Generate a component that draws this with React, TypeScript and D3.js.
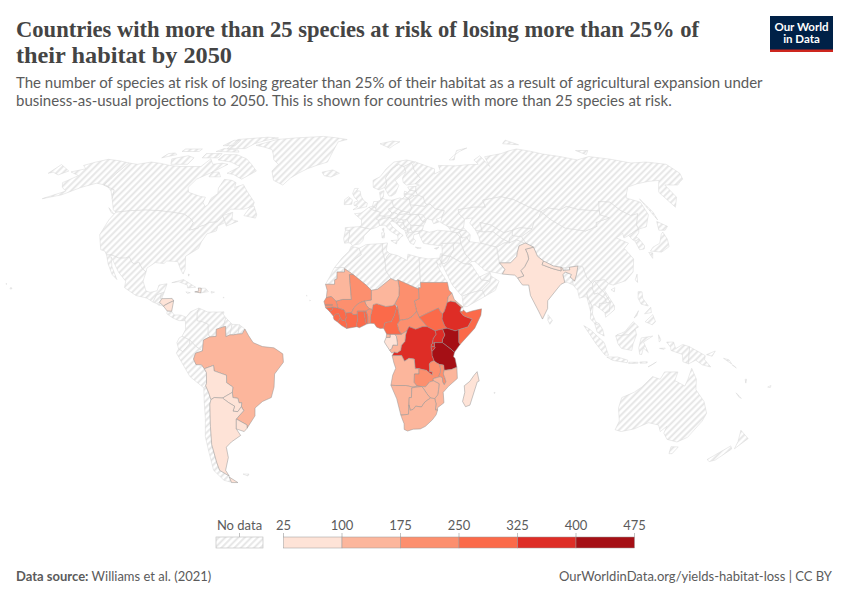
import * as d3 from "d3"

type Ring = [number, number][]
type Shapes = Record<string, Ring[]>

const title = ["Countries with more than 25 species at risk of losing more than 25% of", "their habitat by 2050"]
const subtitle = [
  "The number of species at risk of losing greater than 25% of their habitat as a result of agricultural expansion under",
  "business-as-usual projections to 2050. This is shown for countries with more than 25 species at risk.",
]

const legendBreaks = [25, 100, 175, 250, 325, 400, 475]
const legendColors = ["#fee3d7", "#fcb69c", "#fc8f6e", "#fb6a4a", "#de2d26", "#a50f15"]

const speciesCountries = [
  "Tanzania", "Kenya", "Ethiopia", "Uganda", "DR Congo", "Rwanda", "Burundi", "Nigeria", "Cameroon", "South Sudan",
  "Somalia", "Ghana", "Ivory Coast", "Guinea", "Liberia", "Sierra Leone", "Guinea-Bissau", "Togo", "Zambia", "Malawi",
  "Mali", "Chad", "Sudan", "Central African Republic", "Senegal", "Gambia", "Burkina Faso", "Benin", "Equatorial Guinea",
  "Mauritania", "Niger", "Eritrea", "Congo", "Angola", "Mozambique", "Zimbabwe", "Botswana", "Namibia", "South Africa",
  "Brazil", "Gabon", "Madagascar", "India", "Pakistan", "Nepal", "Argentina", "Bolivia", "Paraguay", "Uruguay",
  "Honduras", "Nicaragua", "Haiti",
]
const speciesValues = [
  445, 430, 370, 350, 360, 330, 330, 300, 290, 280,
  270, 280, 285, 270, 280, 280, 260, 260, 230, 220,
  200, 200, 190, 200, 230, 220, 200, 180, 170,
  150, 140, 130, 140, 130, 130, 130, 125, 130, 140,
  135, 60, 50, 60, 50, 55, 45, 55, 50, 45,
  60, 55, 70,
]

const africaShapes: Shapes = {
  Morocco: [[[-5.9,35.8],[-2.2,35.1],[-1.2,32.6],[-3.6,31.2],[-8.7,27.7],[-13.2,27.7],[-9.8,31.5],[-6.8,34]]],
  "Western Sahara": [[[-13.2,27.7],[-8.7,27.7],[-8.7,26],[-12,26],[-12,23.4],[-13,23],[-13,21.3],[-17,21.3],[-15,24.5],[-14,26.5]]],
  Mauritania: [[[-17,21.3],[-13,21.3],[-13,23],[-12,23.4],[-12,26],[-8.7,26],[-8.7,27.3],[-4.8,25],[-6.5,25],[-5.5,15.5],[-9.3,15.5],[-10.9,15.1],[-12.2,14.8],[-14.3,16.6],[-16.5,16.2],[-16.2,19]]],
  Algeria: [[[-2.2,35.1],[1,36.5],[8.6,36.9],[8.4,34.5],[9.5,30.2],[9.8,26.5],[11.9,23.5],[6,19.4],[3.2,19],[1.1,20.9],[-4.8,25],[-8.7,27.3],[-8.7,27.7],[-3.6,31.2],[-1.2,32.6]]],
  Tunisia: [[[8.6,36.9],[10.9,37.1],[10.2,34.3],[11.5,33.1],[10.3,31.7],[9.5,30.2],[8.4,34.5]]],
  Libya: [[[11.5,33.1],[15.2,32.3],[19.5,30.4],[20,32.8],[25,31.6],[25,20],[24,20],[24,19.5],[15,23],[14.2,22.6],[11.9,23.5],[9.8,26.5],[9.5,30.2],[10.3,31.7]]],
  Egypt: [[[25,31.6],[29,31],[32.3,31.2],[34.2,31.3],[34.9,29.5],[34.3,27.8],[32.6,29.9],[33.7,27],[35.7,23.9],[36.9,22],[25,22]]],
  Sudan: [[[25,22],[36.9,22],[37.4,19],[38.6,18],[36.9,16.5],[36.4,14.4],[35,11],[34.2,10],[33.2,10.8],[32.4,12.2],[27,10],[24,8.7],[22.9,11],[22.3,13.5],[22,15],[24,15.7],[24,19.5],[24,20],[25,20]]],
  Chad: [[[15,23],[24,19.5],[24,15.7],[22,15],[22.3,13.5],[22.9,11],[21,9],[18.9,8],[15.5,7.5],[15.1,10],[14.5,12.9],[13.5,14],[15.3,16.9],[15.5,20]]],
  "Central African Republic": [[[14.4,6],[15.5,7.5],[18.9,8],[21,9],[22.9,11],[24,8.7],[27.4,5.1],[25.3,5.1],[22.4,4.1],[19.5,5.1],[18.6,3.5],[16.2,2.2],[15,3.8]]],
  "South Sudan": [[[24,8.7],[27,10],[32.4,12.2],[33.2,10.8],[34.2,10],[33.9,8],[35,5.4],[36,4.5],[34,4.2],[30.8,3.5],[27.4,5.1]]],
  Ethiopia: [[[36.4,14.4],[37.9,14.9],[40,14.5],[42.4,12.5],[41.8,11],[43,9.5],[44,9],[47,8],[45,5],[42,4.2],[41,3.9],[39.5,3.5],[36,4.5],[35,5.4],[33.9,8],[34.2,10],[35,11]]],
  Eritrea: [[[36.4,14.4],[36.9,16.5],[38.6,18],[39.5,15.5],[43.1,12.6],[42.4,12.5],[40,14.5],[37.9,14.9]]],
  Djibouti: [[[42.4,12.5],[43.1,12.6],[43.3,11.5],[42.8,10.9],[41.8,11]]],
  Somalia: [[[42.8,10.9],[43.3,11.5],[44.5,10.4],[47,11.1],[51.2,11.9],[50.8,9.5],[48,4.5],[41.6,-1.7],[41,-0.9],[41,3.9],[42,4.2],[45,5],[47,8],[44,9],[43,9.5],[41.8,11]]],
  Kenya: [[[41,3.9],[41,-0.9],[41.6,-1.7],[39.2,-4.7],[37.7,-3.5],[33.9,-1],[33.9,0.1],[35,1.9],[34,4.2],[36,4.5],[39.5,3.5]]],
  Uganda: [[[33.9,-1],[30.5,-1],[29.6,-1.4],[29.9,0.5],[31.2,2.2],[30.8,3.5],[34,4.2],[35,1.9],[33.9,0.1]]],
  Tanzania: [[[33.9,-1],[37.7,-3.5],[39.2,-4.7],[38.8,-6.4],[39.5,-7],[40.4,-10.4],[38,-11.3],[34.9,-11.6],[34.6,-9.6],[32.9,-9.4],[31.2,-8.6],[30.4,-7.9],[29.5,-6],[29.4,-4.4],[30.8,-3],[30.5,-2.4],[30.5,-1]]],
  Rwanda: [[[30.5,-1],[30.5,-2.4],[29,-2.7],[29.2,-1.6],[29.6,-1.4]]],
  Burundi: [[[30.5,-2.4],[30.8,-3],[29.4,-4.4],[29,-2.7]]],
  "DR Congo": [[[12.2,-6],[13.1,-4.6],[14.4,-4.9],[15.9,-3.9],[16.2,-2],[17.7,-0.5],[18,2],[18.6,3.5],[19.5,5.1],[22.4,4.1],[25.3,5.1],[27.4,5.1],[30.8,3.5],[31.2,2.2],[29.9,0.5],[29.6,-1.4],[29.2,-1.6],[29,-2.7],[29.4,-4.4],[29.5,-6],[30.4,-7.9],[28.9,-8.5],[28.4,-9.2],[28.6,-12],[29.8,-12.2],[29.8,-13.4],[28.4,-12.5],[27.2,-11.6],[25.3,-11.3],[23.9,-10.9],[22.3,-11],[21.8,-7.3],[19.5,-7],[17.6,-8.1],[16.3,-5.9]]],
  Congo: [[[11.1,-3.9],[12,-5],[13.1,-4.6],[14.4,-4.9],[15.9,-3.9],[16.2,-2],[17.7,-0.5],[18,2],[18.6,3.5],[16.2,2.2],[13.2,2.2],[14,1.4],[14.4,-0.9],[14.5,-2],[12.5,-1.9],[12,-3.3]]],
  Gabon: [[[9.3,-1.5],[8.8,-0.7],[9.6,1],[11.3,1],[11.3,2.2],[13.2,2.2],[14,1.4],[14.4,-0.9],[14.5,-2],[12.5,-1.9],[12,-3.3],[11.1,-3.9]]],
  "Equatorial Guinea": [[[9.8,2.3],[11.3,2.2],[11.3,1],[9.6,1]]],
  Cameroon: [[[8.5,4.5],[9.8,2.3],[11.3,2.2],[13.2,2.2],[16.2,2.2],[15,3.8],[14.4,6],[15.5,7.5],[15.1,10],[14.5,12.9],[14.2,12.4],[13.2,9.5],[11.8,7],[10.2,6.9],[8.9,6.4]]],
  Nigeria: [[[2.7,6.4],[4.4,6.3],[5.5,4.9],[7,4.4],[8.5,4.5],[8.9,6.4],[10.2,6.9],[11.8,7],[13.2,9.5],[14.2,12.4],[13.6,13.7],[12.3,13.1],[9.5,12.8],[7.8,13.3],[5.5,13.9],[4,13.5],[3.6,11.7],[2.8,9]]],
  Niger: [[[0.2,14.9],[3.2,15.3],[3.2,19],[6,19.4],[11.9,23.5],[14.2,22.6],[15,23],[15.5,20],[15.3,16.9],[13.5,14],[13.6,13.7],[12.3,13.1],[9.5,12.8],[7.8,13.3],[5.5,13.9],[4,13.5],[3.6,11.7],[2.4,11.9],[1,13.3]]],
  Mali: [[[-12.2,14.8],[-10.9,15.1],[-9.3,15.5],[-5.5,15.5],[-6.5,25],[-4.8,25],[1.1,20.9],[3.2,19],[3.2,15.3],[0.2,14.9],[-2,14.2],[-3,13.5],[-4.4,12.3],[-5.4,10.4],[-6.2,10.5],[-8,10.2],[-8.7,11.5],[-11.4,12.2]]],
  "Burkina Faso": [[[0.2,14.9],[1,13.3],[2.4,11.9],[0.9,11],[-0.1,11],[-2.9,11],[-2.9,9.7],[-4.7,9.7],[-5.4,10.4],[-4.4,12.3],[-3,13.5],[-2,14.2]]],
  Benin: [[[2.7,6.4],[2.8,9],[3.6,11.7],[2.4,11.9],[0.9,11],[1.6,9],[1.6,6.2]]],
  Togo: [[[1.2,6.1],[1.6,6.2],[1.6,9],[0.9,11],[-0.1,11],[0.5,8],[0.5,7]]],
  Ghana: [[[-3.1,5.1],[-2,4.7],[1.2,6.1],[0.5,7],[0.5,8],[-0.1,11],[-2.9,11],[-2.9,9.7],[-2.7,7.9],[-3.2,6.3]]],
  "Ivory Coast": [[[-7.5,4.4],[-3.1,5.1],[-3.2,6.3],[-2.7,7.9],[-2.9,9.7],[-4.7,9.7],[-5.4,10.4],[-6.2,10.5],[-8,10.2],[-7.7,8.4],[-8.3,7.6],[-7.5,6]]],
  Liberia: [[[-11.5,6.9],[-9.7,5.5],[-7.5,4.4],[-7.5,6],[-8.3,7.6],[-9.4,7.4],[-10.3,8.5]]],
  "Sierra Leone": [[[-13.3,8.5],[-12.9,7.7],[-11.5,6.9],[-10.3,8.5],[-11,10],[-12.4,9.9],[-13.2,9]]],
  Guinea: [[[-15,10.9],[-13.2,9],[-12.4,9.9],[-11,10],[-10.3,8.5],[-9.4,7.4],[-8.3,7.6],[-7.7,8.4],[-8,10.2],[-8.7,11.5],[-11.4,12.2],[-12.2,12.4],[-13.7,12.6],[-13.7,11.7]]],
  "Guinea-Bissau": [[[-16.7,12.3],[-13.7,12.6],[-13.7,11.7],[-15,10.9]]],
  Senegal: [[[-17.5,14.7],[-16.5,16.2],[-14.3,16.6],[-12.2,14.8],[-11.4,12.2],[-12.2,12.4],[-13.7,12.6],[-16.7,12.3]]],
  Gambia: [[[-16.8,13.6],[-13.8,13.6],[-13.8,13.2],[-16.8,13.2]]],
  Angola: [[[12.2,-6],[16.3,-5.9],[17.6,-8.1],[19.5,-7],[21.8,-7.3],[22.3,-11],[23.9,-10.9],[24,-13],[22,-13],[22,-16.2],[23.4,-17.6],[21.4,-18],[18.4,-17.4],[13.9,-17.4],[11.8,-17.3],[12.5,-13.5],[13.8,-10.8],[13,-8.8]]],
  Zambia: [[[22,-13],[24,-13],[23.9,-10.9],[25.3,-11.3],[27.2,-11.6],[28.4,-12.5],[29.8,-13.4],[29.8,-12.2],[28.6,-12],[28.4,-9.2],[28.9,-8.5],[30.4,-7.9],[31.2,-8.6],[32.9,-9.4],[33.3,-11],[33.3,-12.5],[32.7,-13.6],[33.2,-14],[30.2,-14.8],[30.4,-15.6],[28.8,-16],[27,-17.9],[25.3,-17.8],[23.4,-17.6],[22,-16.2]]],
  Malawi: [[[32.9,-9.4],[34.6,-9.6],[34.9,-11.6],[34.6,-13],[35.3,-14.4],[35.9,-16],[35.2,-17.1],[34.4,-16],[34.3,-14.5],[33.2,-14],[32.7,-13.6],[33.3,-12.5],[33.3,-11]]],
  Mozambique: [[[40.4,-10.4],[40.8,-14.7],[37,-17.8],[34.9,-20],[35.5,-24],[32.8,-25.9],[32.9,-26.8],[32,-26.8],[31.9,-25.9],[32,-24.4],[31.3,-22.4],[32.5,-21],[32.8,-19],[32.9,-16.7],[30.4,-15.6],[30.2,-14.8],[33.2,-14],[34.3,-14.5],[34.4,-16],[35.2,-17.1],[35.9,-16],[35.3,-14.4],[34.6,-13],[34.9,-11.6],[38,-11.3]]],
  Zimbabwe: [[[25.3,-17.8],[27,-17.9],[28.8,-16],[30.4,-15.6],[32.9,-16.7],[32.8,-19],[32.5,-21],[31.3,-22.4],[29.4,-22.2],[27.7,-20.5],[26,-18.4]]],
  Namibia: [[[11.8,-17.3],[13.9,-17.4],[18.4,-17.4],[21.4,-18],[23.4,-17.6],[25.3,-17.8],[23.3,-18],[21,-18.3],[21,-22],[20,-22],[20,-28.4],[17,-28.7],[16.5,-28.6],[14.5,-22.5]]],
  Botswana: [[[21,-18.3],[23.3,-18],[25.3,-17.8],[26,-18.4],[27.7,-20.5],[29.4,-22.2],[27,-23.7],[25.6,-25.6],[23,-25.3],[22,-26.5],[20.7,-26.9],[20,-24.8],[20,-22],[21,-22]]],
  "South Africa": [[[16.5,-28.6],[17,-28.7],[20,-28.4],[20,-24.8],[20.7,-26.9],[22,-26.5],[23,-25.3],[25.6,-25.6],[27,-23.7],[29.4,-22.2],[31.3,-22.4],[32,-24.4],[31.9,-25.9],[32,-26.8],[32.9,-26.8],[32.4,-28.6],[30.9,-30.5],[28,-33],[25.7,-34],[22.5,-34.1],[20,-34.8],[18.4,-34.2],[18.2,-32],[17,-29.7]]],
  Lesotho: [[[27.2,-29.6],[28.5,-28.6],[29.4,-29.5],[28.2,-30.6]]],
  Eswatini: [[[31,-25.9],[31.9,-25.9],[32,-26.8],[31.2,-27.3],[30.8,-26.7]]],
  Madagascar: [[[49.3,-12.1],[50.4,-15.7],[49.6,-16],[47.1,-24.9],[45.2,-25.5],[43.7,-23.5],[44.4,-20],[44,-17.5],[46.3,-15.8],[48,-13.5]]],
  "Cape Verde": [[[-25.2,17.1],[-24.9,16.9],[-25.2,16.8]], [[-23.7,15.3],[-23.4,15.1],[-23.7,14.9]]],
  Mauritius: [[[57.3,-20],[57.8,-20.1],[57.5,-20.5]]],
}

const americasShapes: Shapes = {
  Canada: [
    [[-141,69.6],[-135,69],[-128,70],[-115,68.5],[-108,68],[-96,68],[-94,71.5],[-90,69],[-85,69.5],[-81,69],[-86,66],[-93,62.5],[-94.5,59],[-92.5,57],[-85,55.3],[-82.2,55],[-82,52.8],[-80,51.3],[-79,52],[-79,54.5],[-76.8,56.5],[-78,58.8],[-77.5,62.4],[-73,62],[-70,61],[-69.5,59],[-65.5,60.2],[-62,57.5],[-56,53],[-56,51.5],[-60,50.2],[-66.5,50.2],[-69.5,47.7],[-65,49],[-64.5,47],[-64,46],[-61,45.5],[-66,43.6],[-67,45],[-69.2,47.4],[-71,45.2],[-74.7,45],[-76.5,44],[-79,43.3],[-79,42.8],[-83,42],[-82.5,45],[-84.5,46.5],[-88.5,48.2],[-95,49],[-123,49],[-125,50],[-130,54.5],[-133,58],[-137,59],[-141,60]],
    [[-62,66],[-68,62.5],[-74,64.5],[-78,65],[-73,68],[-80,70],[-89,71],[-88,73.5],[-80,73.5],[-72,71.5],[-67,69]],
    [[-105,69],[-115,69],[-118,71.5],[-110,73],[-105,72]],
    [[-125,72],[-118,73.5],[-120,74.3],[-124,74]],
    [[-90,76.5],[-78,76.5],[-75,79],[-62,82.5],[-70,83],[-90,81.5]],
    [[-95,75],[-80,74.7],[-82,75.8],[-92,76.5]],
    [[-117,75],[-106,75],[-106,76.3],[-117,76.3]],
    [[-95,78],[-87,78],[-87,81],[-92,81]],
    [[-100,72],[-90,72],[-90,74],[-100,74]],
    [[-87,63.5],[-80.5,63.5],[-83,65.5],[-87,65.5]],
    [[-59,47.7],[-53,46.7],[-52.8,48],[-55.5,51.5],[-57.5,50.5]],
    [[-128,50.8],[-123.5,48.4],[-125,48.8]],
  ],
  "United States": [
    [[-123,49],[-95,49],[-88.5,48.2],[-84.5,46.5],[-82.5,45],[-83,42],[-79,42.8],[-79,43.3],[-76.5,44],[-74.7,45],[-71,45.2],[-69.2,47.4],[-67,45],[-70,43.7],[-70,41.7],[-74,40.6],[-75.5,37.5],[-76,35],[-81,32],[-80,27],[-80.5,25.2],[-82,27],[-84,30],[-89,30.2],[-90,29.2],[-94,29.6],[-97.2,27.5],[-97.2,26],[-99.5,27.5],[-101.5,29.8],[-103,29],[-104.5,29.6],[-106.5,31.8],[-108.2,31.3],[-111,31.3],[-114.8,32.5],[-117.1,32.5],[-118.5,34],[-120.6,34.5],[-122.5,37.5],[-124.3,40.3],[-124,46]],
    [[-141,69.6],[-141,60],[-137,59],[-133,58],[-130,54.5],[-134,57.5],[-139,59.8],[-146,60.8],[-152,59],[-158,56],[-166,54.4],[-158,57.5],[-162,59],[-165,61],[-161,64],[-168,65.6],[-162,67],[-166,68.5],[-156.5,71.3]],
    [[-155.9,19.5],[-155,19.6],[-155.6,20.2]],
    [[-158.2,21.6],[-157.7,21.4],[-158.1,21.3]],
  ],
  Greenland: [[[-73,78.2],[-60,76],[-55,71],[-51,69],[-53,66],[-50,62],[-44,60],[-41,63],[-33,67],[-22,70],[-20,75],[-18,80],[-12,81.5],[-30,83.5],[-50,82.5],[-62,81.5],[-68,79.5]]],
  Mexico: [[[-117.1,32.5],[-114.8,32.5],[-111,31.3],[-108.2,31.3],[-106.5,31.8],[-104.5,29.6],[-103,29],[-101.5,29.8],[-99.5,27.5],[-97.2,26],[-97.8,22.5],[-95.9,18.8],[-94,18.2],[-91,18.8],[-90.5,21],[-87,21.5],[-87.8,18.3],[-89,17.9],[-91,17.2],[-92.2,14.5],[-95,16],[-100,17],[-105.5,20],[-105.5,22.5],[-109.5,26],[-112.5,29.5],[-114.7,31.7],[-113,28],[-109.5,23.1],[-112,25],[-115,29]]],
  Guatemala: [[[-92.2,14.5],[-91,17.2],[-89,17.9],[-89,15.8],[-88.5,15.8],[-89.3,14.4],[-90.5,13.9]]],
  Belize: [[[-89,17.9],[-87.8,18.3],[-88.5,15.9],[-89,15.8]]],
  Honduras: [[[-88.5,15.8],[-84,15.9],[-83.2,15],[-85.5,14],[-87.5,13],[-89.3,14.4]]],
  "El Salvador": [[[-90.5,13.9],[-89.3,14.4],[-87.5,13],[-89.5,13.3]]],
  Nicaragua: [[[-87.5,13],[-85.5,14],[-83.2,15],[-83.7,11],[-85.7,11.1]]],
  "Costa Rica": [[[-85.7,11.1],[-83.7,11],[-82.6,9.6],[-83,8.4],[-85.7,10]]],
  Panama: [[[-83,8.4],[-82.6,9.6],[-79.5,9.5],[-77.3,8.7],[-78,7.4],[-80.3,7.4]]],
  Colombia: [[[-77.3,8.7],[-75.5,10.8],[-72,12.2],[-72.5,10],[-72.4,7.4],[-70,7],[-67.5,6],[-67.5,2.5],[-66.8,1.2],[-69.5,0],[-70,-4.2],[-72.9,-2.4],[-75.3,-0.1],[-78.8,1.4],[-77.3,4],[-77.5,7.4],[-78,7.4]]],
  Venezuela: [[[-72,12.2],[-68,10.7],[-62,10.7],[-60,8.5],[-61,5],[-64,4.1],[-64,1.4],[-66.8,1.2],[-67.5,2.5],[-67.5,6],[-70,7],[-72.4,7.4],[-72.5,10]]],
  Guyana: [[[-60,8.5],[-57.2,6],[-58,2],[-59.8,1.3],[-60,5.2],[-61,5]]],
  Suriname: [[[-57.2,6],[-54,5.8],[-54.5,2.3],[-56.5,2],[-58,2]]],
  "French Guiana": [[[-54,5.8],[-51.6,4.2],[-52.7,2.4],[-54.5,2.3]]],
  Brazil: [[[-51.6,4.2],[-50,1.7],[-48,-1],[-44,-2.5],[-39,-3],[-35.2,-5.3],[-35,-8.5],[-39,-13],[-39.5,-18],[-41,-22],[-45,-23.5],[-48.6,-26],[-49,-29],[-53.4,-33.7],[-53.2,-32.5],[-57.6,-30.2],[-53.8,-27],[-54.6,-25.5],[-54.3,-24],[-55.5,-24],[-55.8,-22.3],[-58,-22],[-58,-20],[-57.6,-18],[-60.2,-16.3],[-60,-13.5],[-65.3,-11.8],[-65.4,-9.7],[-69.5,-11],[-70.6,-9.5],[-73,-9.4],[-74,-7.3],[-73,-5],[-70,-4.2],[-69.5,0],[-66.8,1.2],[-64,1.4],[-64,4.1],[-61,5],[-60,5.2],[-59.8,1.3],[-58,2],[-56.5,2],[-54.5,2.3],[-52.7,2.4]]],
  Ecuador: [[[-80,0.8],[-78.8,1.4],[-75.3,-0.1],[-75.5,-1.5],[-78.5,-4.5],[-80.3,-3.4],[-81,-1]]],
  Peru: [[[-80.3,-3.4],[-78.5,-4.5],[-75.5,-1.5],[-75.3,-0.1],[-72.9,-2.4],[-70,-4.2],[-73,-5],[-74,-7.3],[-73,-9.4],[-70.6,-9.5],[-69.5,-11],[-68.7,-12.5],[-69,-16.5],[-69.5,-17.5],[-70.4,-18.3],[-76,-14],[-81.3,-5]]],
  Bolivia: [[[-69.5,-11],[-65.4,-9.7],[-65.3,-11.8],[-60,-13.5],[-60.2,-16.3],[-57.6,-18],[-58,-20],[-62.6,-22.2],[-66.2,-22],[-67.8,-22.8],[-68.5,-20],[-69.5,-17.5],[-69,-16.5],[-68.7,-12.5]]],
  Paraguay: [[[-58,-20],[-58,-22],[-55.8,-22.3],[-55.5,-24],[-54.3,-24],[-54.6,-25.5],[-56.5,-27.4],[-58.6,-27.2],[-57.6,-25.3],[-60,-24],[-62.6,-22.2]]],
  Chile: [[[-70.4,-18.3],[-69.5,-17.5],[-68.5,-20],[-67.8,-22.8],[-68.5,-24.5],[-70,-33],[-71.5,-40],[-72,-47],[-72,-50],[-68.4,-52.3],[-68.6,-54.8],[-72,-54],[-75,-50],[-74,-43],[-73.5,-37],[-71.5,-30]]],
  Argentina: [
    [[-66.2,-22],[-62.6,-22.2],[-60,-24],[-57.6,-25.3],[-58.6,-27.2],[-56.5,-27.4],[-54.6,-25.5],[-53.8,-27],[-57.6,-30.2],[-58.4,-34],[-57,-36.5],[-62,-39],[-65,-41],[-65.5,-45],[-69,-50],[-68.4,-52.3],[-72,-50],[-72,-47],[-71.5,-40],[-70,-33],[-68.5,-24.5],[-67.8,-22.8]],
    [[-68.6,-52.7],[-65.3,-54.9],[-68.6,-54.9]],
  ],
  Uruguay: [[[-57.6,-30.2],[-53.2,-32.5],[-53.4,-33.7],[-55,-35],[-58.4,-34]]],
  Cuba: [[[-85,21.9],[-80,23.1],[-74.2,20.2],[-77.7,19.9],[-78,21],[-82,22.3]]],
  Haiti: [[[-74.4,18.4],[-71.7,18],[-71.7,19.8],[-73,19.9],[-72.6,18.7]]],
  "Dominican Republic": [[[-71.7,18],[-68.4,18.5],[-69.8,19.8],[-71.7,19.8]]],
  Jamaica: [[[-78.3,18.4],[-76.3,18.1],[-77.5,17.8]]],
  "Puerto Rico": [[[-67.2,18.5],[-65.7,18.3],[-67,17.9]]],
  Trinidad: [[[-61.9,10.7],[-61,10.8],[-61,10.1]]],
  Bahamas: [[[-78.2,25.2],[-77.7,25.1],[-77.9,24.4]]],
  Guadeloupe: [[[-61.7,16.3],[-61.3,16.3],[-61.5,16]]],
  Falklands: [[[-61,-51.5],[-58,-51.5],[-59,-52.3]]],
}

const eurasiaShapes: Shapes = {
  Iceland: [[[-24,65.5],[-18,66.5],[-14,65],[-18.5,63.4],[-22.5,64]]],
  Spain: [[[-9,43],[-2,43.4],[3.2,42.4],[0,39.8],[-0.5,38],[-2,36.8],[-5.4,36.1],[-6.3,37],[-7.4,37.2],[-7,39.6],[-6.7,41.9],[-8.8,42]]],
  Portugal: [[[-8.8,42],[-6.7,41.9],[-7,39.6],[-7.4,37.2],[-9,37],[-9.5,38.8]]],
  France: [[[-2,43.4],[3.2,42.4],[6,43.1],[7.5,43.8],[7,45.9],[6,46.3],[7.6,47.6],[8.2,49],[6.1,49.5],[4.2,50],[2.5,51],[0,49.5],[-1.5,48.7],[-4.7,48.4],[-1.2,46],[-1.2,44]], [[8.6,42.5],[9.5,42.8],[9.3,41.4]]],
  Belgium: [[[2.5,51],[4.2,50],[6.1,49.5],[6,50.7],[4.3,51.4]]],
  Netherlands: [[[4.3,51.4],[6,50.7],[7.1,53.3],[5,53.3]]],
  Germany: [[[6,50.7],[6.1,49.5],[8.2,49],[7.6,47.6],[10.2,47.4],[13,47.6],[13.8,48.7],[12.2,50.3],[15,51],[14.3,53.8],[11,54],[9.5,54.8],[8.6,54],[7.1,53.3]]],
  Switzerland: [[[6,46.3],[7,45.9],[10.4,46.7],[10.2,47.4],[7.6,47.6]]],
  Italy: [[[7.5,43.8],[10,44],[12.5,41.7],[15.8,40],[16,38],[17,39.2],[18.4,40],[16,41.6],[13.5,43.5],[12.4,45],[13.7,45.6],[13.7,46.5],[12.3,47],[10.4,46.7],[7,45.9]], [[12.5,38],[15.6,38.2],[15,36.7]], [[8.3,41],[9.7,41],[9.5,39.1],[8.5,39]]],
  Austria: [[[10.2,47.4],[10.4,46.7],[12.3,47],[13.7,46.5],[16,46.8],[17,48],[15,49],[13.8,48.7],[13,47.6]]],
  Slovenia: [[[13.7,45.6],[15.5,45.5],[16.5,46.5],[16,46.8],[13.7,46.5]]],
  Croatia: [[[13.7,45.6],[15,45],[17.5,43],[18.5,42.5],[19,45],[19,46],[16.5,46.5],[15.5,45.5]]],
  Bosnia: [[[15.8,45],[19,45],[19.4,43.5],[18.5,42.5],[17.5,43]]],
  Serbia: [[[19,46],[21,46.3],[21.5,45],[22.5,44],[22.4,42.3],[20.8,42.5],[19.4,43.5],[19,45]]],
  Montenegro: [[[18.5,42.5],[19.4,43.5],[20.8,42.5],[20.6,42],[19.4,41.9]]],
  Albania: [[[19.4,41.9],[20.6,42],[21,40.9],[20,39.7]]],
  "North Macedonia": [[[20.6,42],[20.8,42.5],[22.4,42.3],[23,41.3],[21,40.9]]],
  Greece: [[[21,40.9],[23,41.3],[26.3,41.7],[26,40.8],[23.5,40.3],[23,39],[24,38],[23,36.5],[21.5,37],[20,39.7]], [[23.6,35.5],[26.3,35.2],[24.8,34.9]]],
  Bulgaria: [[[22.5,44],[28.5,43.7],[27.7,42],[26.3,41.7],[23,41.3],[22.4,42.3]]],
  Romania: [[[21.5,45],[22.5,44],[28.5,43.7],[29.7,45.2],[28.2,45.5],[26.6,48.2],[23,48],[21,46.3]]],
  Hungary: [[[16.5,46.5],[19,46],[21,46.3],[23,48],[20.5,48.5],[17,48],[16,46.8]]],
  Slovakia: [[[17,48],[20.5,48.5],[23,48],[22.5,48.9],[19,49.5],[17.5,48.9]]],
  Czechia: [[[12.2,50.3],[13.8,48.7],[15,49],[17,48],[17.5,48.9],[19,49.5],[15,51]]],
  Poland: [[[14.3,53.8],[15,51],[19,49.5],[22.5,48.9],[24,50.5],[23.5,52],[23.5,54.2],[19.5,54.4],[18.5,54.7]]],
  Ukraine: [[[22.5,48.9],[23,48],[26.6,48.2],[28.2,45.5],[29.7,45.2],[30.7,46.5],[33,46],[33.5,44.5],[36.5,45.3],[35,46.2],[38.2,47.1],[40,49.6],[35.5,50.4],[33.5,52.3],[31.8,52.1],[30.5,51.4],[23.5,52],[24,50.5]]],
  Moldova: [[[26.6,48.2],[29,48],[30,46.4],[28.2,45.5]]],
  Belarus: [[[23.5,52],[30.5,51.4],[31.8,52.1],[31,53],[30.8,55],[28,56],[26,55.5],[23.5,54.2]]],
  Lithuania: [[[21,55.3],[23.5,54.2],[26,55.5],[25,56.3],[21,56.4]]],
  Latvia: [[[21,56.4],[25,56.3],[26,55.5],[28,56],[27.5,57.5],[24.3,57.9],[23,57],[21.5,57.5]]],
  Estonia: [[[23.5,59.2],[28,59.5],[27.5,57.5],[24.3,57.9]]],
  Denmark: [[[8.2,57],[10.6,57.7],[10,55],[9.5,54.8],[8.6,54]]],
  Sweden: [[[11,59],[13,55.5],[14.3,55.5],[16.5,56.5],[18.8,59.8],[17.3,62],[21.5,64.5],[24.1,65.8],[23.5,68],[20.5,69],[16,67],[12,63],[12.3,60.5]]],
  Norway: [[[5,59],[8,58],[11,59],[12.3,60.5],[12,63],[16,67],[20.5,69],[23.5,68],[28,69.5],[31,70],[26,71],[18,70],[13,67],[9,63.5],[5,62]], [[11,79],[20,80.5],[25,80],[17,76.7]]],
  Finland: [[[23.5,68],[24.1,65.8],[21.5,63],[21.5,61],[23,60],[27.8,60.5],[31.5,62.8],[29,66.5],[29,69],[28,69.5]]],
  "United Kingdom": [[[-5.5,50],[1.3,51.2],[1.7,52.7],[0,53.5],[-1.6,55.5],[-2,57.5],[-4,57.7],[-3,58.6],[-5,58.6],[-6,56.5],[-4.8,54.8],[-3,53.5],[-5,53],[-5,51.7],[-3,51.3]]],
  Ireland: [[[-10,52],[-6.2,52.2],[-6,54],[-8,55.2],[-10,54]]],
  Russia: [
    [[27.5,57.5],[28,59.5],[30,60],[27.8,60.5],[31.5,62.8],[29,66.5],[29,69],[31,70],[41,67],[40,64.7],[44,66],[44,68.5],[54,68.3],[68,69],[67,71],[72.5,73],[74,68],[75,72.5],[87,74],[100,76.3],[113,73.8],[130,71],[140,72.6],[160,69.6],[170,70],[179.9,69],[179.9,65],[177,62.5],[170,60],[163,60],[162,55],[156.5,51],[155.5,57],[163,62],[156,61.5],[142,59.2],[135.5,54.7],[141,53],[140,48],[135,43.3],[131,42.5],[130.7,42.3],[130.8,44],[135,48.4],[131,47.7],[127.5,49.8],[125.5,53],[120,53.3],[117,49.5],[113,49.7],[107,50],[102,51.3],[98,50],[92,50.7],[87.8,49.2],[83,51],[77,54],[71,55.2],[61,53.8],[61,51],[55,51],[47,50],[46.8,48.5],[49,46.3],[47.5,43],[48.5,41.8],[46.5,41.9],[40,43.5],[37,45],[38.2,47.1],[40,49.6],[35.5,50.4],[33.5,52.3],[31.8,52.1],[31,53],[30.8,55],[28,56]],
    [[-179.9,68.9],[-175,67.5],[-170,66],[-173,64.3],[-178,65.5],[-179.9,65]],
    [[19.8,54.4],[23.5,54.2],[21,55.3]],
    [[142,54.3],[143.2,49],[142.7,46],[142,50]],
    [[52,71],[56,73],[68,76.8],[60,75.5],[55,71]],
    [[95,79],[105,78.5],[100,81]],
    [[137,75.5],[145,75.5],[140,73.5]],
  ],
  Kazakhstan: [[[47,50],[55,51],[61,51],[61,53.8],[71,55.2],[77,54],[83,51],[87.8,49.2],[85.5,47],[82.5,45.5],[80,42.5],[74.5,43],[70.5,42],[66,41],[61,44],[56,45],[56,41.3],[53,42],[51,44.8],[53,46.8],[49,46.3],[46.8,48.5]]],
  China: [[[73.7,39.5],[80,42.5],[82.5,45.5],[85.5,47],[87.8,49.2],[91,46],[96,42.8],[105,41.7],[111.5,43.5],[112,45],[119.8,46.8],[116,48],[117,49.5],[120,53.3],[125.5,53],[127.5,49.8],[131,47.7],[135,48.4],[130.8,44],[130.7,42.3],[128,41.5],[124.3,40],[121.5,39],[122,40.8],[118,39],[122.5,37],[119.5,35],[122,31],[120,26],[116,22.7],[110,21],[108,21.5],[106.5,23],[102,22.5],[101,21.5],[98.8,24],[98,28],[96,28.3],[92,27.8],[89,27.5],[88.2,27.8],[85,28.3],[81,30.2],[78.8,32],[78,35.5],[75,37]], [[108.7,19.2],[110.5,20],[110,18.4]]],
  Mongolia: [[[87.8,49.2],[92,50.7],[98,50],[102,51.3],[107,50],[113,49.7],[117,49.5],[116,48],[119.8,46.8],[112,45],[111.5,43.5],[105,41.7],[96,42.8],[91,46]]],
  "North Korea": [[[124.3,40],[128,41.5],[130.7,42.3],[129.7,41],[127.5,39.5],[128.4,38.6],[126,37.8],[125,38.5]]],
  "South Korea": [[[126,37.8],[128.4,38.6],[129.4,36],[128.5,34.8],[126.3,34.5]]],
  Japan: [[[131,34],[136,33.6],[140.5,35.7],[141.5,38.5],[141.3,41.3],[140,40.5],[137,37],[133,35.5]], [[140,42],[141.7,45.4],[145.3,43.5],[143,42]], [[130,33.5],[131.7,33.3],[130.7,31.2]]],
  Taiwan: [[[120.2,23],[121.5,25.2],[121,22]]],
  Philippines: [[[120,16],[120.5,18.5],[122.2,18.4],[122,16],[124,13],[121,13.7]], [[122,7],[125.5,9.7],[126.5,7],[125,5.8]], [[122,10],[125,12.5],[125,10.5]], [[117.3,8.4],[119.5,11.2],[118.5,9.2]]],
  Vietnam: [[[102,22.5],[106.5,23],[108,21.5],[105.8,19],[109.3,13],[109,11.5],[105,8.7],[104.8,10.4],[106.8,11],[107.5,14.5],[105.2,18.6],[104,19.5],[102.8,21.5]]],
  Laos: [[[101,21.5],[102,22.5],[102.8,21.5],[104,19.5],[105.2,18.6],[107.5,14.5],[105.8,14.2],[105.5,16],[102.5,17.9],[101,17.5],[100.5,20]]],
  Cambodia: [[[102.5,12.2],[102.8,14],[105.8,14.2],[107.5,14.5],[106.8,11],[104.8,10.4]]],
  Thailand: [[[100.5,20],[101,17.5],[102.5,17.9],[105.5,16],[105.8,14.2],[102.8,14],[102.5,12.2],[100.9,13.3],[100,13.4],[99.3,10],[100.5,7],[102,6.2],[101,5.7],[100,6.5],[98.3,8],[98.6,11],[99.2,13.5],[98,16],[97.7,18],[99.5,20]]],
  Myanmar: [[[92.3,21],[94,19],[94.3,16],[96.5,16.5],[97.6,16.5],[98.6,11],[99.2,13.5],[98,16],[97.7,18],[99.5,20],[100.5,20],[101,21.5],[98.8,24],[98,28],[96,28.3],[94.5,25],[93.2,22.5],[92.3,23.5]]],
  Malaysia: [[[100,6.5],[101,5.7],[102,6.2],[103.4,4],[104,1.5],[101,3]], [[109.5,2],[111.4,2.6],[113,3.2],[116.8,7],[119,5],[117.5,4.2],[114.5,2],[111,1.7],[109,1.5]]],
  Bangladesh: [[[88.5,25],[89.8,26],[92.3,25],[91.5,24],[92.3,23.5],[92.3,21],[90,22],[88.8,22],[88.5,24.5]]],
  India: [[[74,34.7],[78,35.5],[78.8,32],[81,30.2],[80,28.8],[84,27.4],[88,26.4],[88.2,27.8],[89,27.5],[88.9,26.6],[92,26.8],[92,27.8],[96,28.3],[94.5,25],[93.2,22.5],[92.3,23.5],[91.5,24],[92.3,25],[89.8,26],[88.5,25],[88.5,24.5],[88.8,22],[87,21.3],[85,19.5],[80.3,15],[80,12],[77.5,8],[76,11],[73,17],[72.7,21],[70,21],[69,22.3],[68.2,23.7],[71,24.5],[70,26.5],[72,28],[74.5,31],[74.5,33]]],
  Nepal: [[[80,28.8],[81,30.2],[85,28.3],[88.2,27.8],[88,26.4],[84,27.4]]],
  Bhutan: [[[89,27.5],[92,27.8],[92,26.8],[88.9,26.6]]],
  "Sri Lanka": [[[80,9.7],[81.8,7.5],[80.6,6],[79.8,7.5]]],
  Pakistan: [[[74,34.7],[74.5,33],[74.5,31],[72,28],[70,26.5],[71,24.5],[68.2,23.7],[67,24.8],[61.6,25.2],[63,27],[61,29.5],[66,29.5],[69.3,31.9],[70,33.5],[71.5,36],[74.5,37],[75,37],[78,35.5]]],
  Afghanistan: [[[60.9,29.8],[61,29.5],[66,29.5],[69.3,31.9],[70,33.5],[71.5,36],[74.5,37],[71,38.4],[67.5,37.2],[65,37.2],[61,35.5]]],
  Tajikistan: [[[67.5,37.2],[71,38.4],[74.5,37],[75,37],[73.7,39.5],[69.5,40],[68,39]]],
  Kyrgyzstan: [[[69.5,40],[73.7,39.5],[80,42.5],[74.5,43],[70.5,42]]],
  Uzbekistan: [[[56,45],[61,44],[66,41],[70.5,42],[69.5,40],[68,39],[67.5,37.2],[64,39],[61,41.5],[56,41.3]]],
  Turkmenistan: [[[53,42],[56,41.3],[61,41.5],[64,39],[67.5,37.2],[65,37.2],[61,35.5],[54,37],[53.8,39.5]]],
  Iran: [[[44.8,39.7],[48,39.5],[49,37.6],[54,37],[61,35.5],[60.9,29.8],[61,29.5],[63,27],[61.6,25.2],[57,26],[54,26.6],[50,30],[48.5,30],[46,33],[44.8,37]]],
  Iraq: [[[42.4,37.2],[44.8,37],[46,33],[48.5,30],[47.7,29.3],[46.5,29],[44.7,29.2],[39,32],[41,34.5],[41.2,36.5]]],
  Kuwait: [[[47.7,29.3],[48.4,28.6],[46.5,29]]],
  "Saudi Arabia": [[[34.9,29.5],[36,29.2],[37.5,30],[39,32],[44.7,29.2],[46.5,29],[48.4,28.6],[50,26],[51,24.6],[52,23],[55,22.7],[55.7,22],[52,19],[49,18.5],[45,17.4],[43,16.7],[39,21],[36.5,26]]],
  UAE: [[[51.5,24.2],[56.2,26],[56.4,24.5],[55.7,22],[55,22.7],[52,23]]],
  Oman: [[[56.4,24.5],[59.8,22.5],[57.8,19],[53,16.7],[52,19],[55.7,22]]],
  Yemen: [[[43,16.7],[45,17.4],[49,18.5],[52,19],[53,16.7],[45,12.8],[43.4,12.7]]],
  Jordan: [[[34.9,29.5],[35.5,32.4],[36.9,32.3],[39,32],[37.5,30],[36,29.2]]],
  Israel: [[[34.2,31.3],[34.9,33],[35.7,33],[35.5,32.4],[34.9,29.5]]],
  Syria: [[[36,36.9],[42.4,37.2],[41.2,36.5],[41,34.5],[39,32],[36.9,32.3],[35.5,32.4],[35.7,33],[35.9,35.5]]],
  Turkey: [[[26,40.8],[26.3,41.7],[28,41.9],[31,41.2],[35,42],[41.5,41.5],[43.5,41],[44.8,39.7],[44.8,37],[42.4,37.2],[36,36.9],[36,36],[30.5,36.5],[27.5,37],[26.3,39.5]]],
  Cyprus: [[[32.3,35],[34.5,35.6],[33.5,34.7]]],
  Georgia: [[[40,43.5],[46.5,41.9],[45,41.2],[43.5,41],[41.5,41.5]]],
  Armenia: [[[43.5,41],[45,41.2],[46,39],[44.8,39.7]]],
  Azerbaijan: [[[45,41.2],[46.5,41.9],[48.5,41.8],[50,40.3],[49,37.6],[48,39.5],[46,39]]],
}

const oceaniaShapes: Shapes = {
  Indonesia: [
    [[95.3,5.5],[98,4],[104,-1],[106,-5.8],[104.5,-5.8],[100.5,-1.5]],
    [[105.3,-6.5],[110,-6.5],[114.5,-7.7],[114.3,-8.7],[108,-7.8]],
    [[109,1.5],[111,1.7],[114.5,2],[117.5,4.2],[118,2],[116.5,-1.5],[116,-4],[111.5,-3.2],[110,-1.5]],
    [[119.5,-5.5],[119,-3],[120,0.8],[125,1.5],[121,-0.8],[123.2,-4.8],[121,-3],[120.4,-5.5]],
    [[115,-8.5],[119,-8.5],[119,-8.9],[115,-9]],
    [[119.8,-8.4],[123,-8.3],[123,-8.8],[120,-8.9]],
    [[123.5,-10.3],[127,-8.4],[125,-9.6]],
    [[131,-0.8],[134,-0.8],[135,-3.3],[138,-1.7],[141,-2.6],[141,-9.1],[138.5,-8.3],[138,-5.5],[133,-4],[132.8,-2.8]],
    [[127.5,2],[128.5,0],[127.8,-0.8]],
    [[128,-3.2],[130.5,-3.1],[130,-3.6]],
  ],
  "Papua New Guinea": [[[141,-2.6],[145,-4.5],[148,-6],[147.8,-7.5],[150.8,-10.3],[147,-9.5],[144,-7.7],[141,-9.1]], [[148.5,-5.6],[152.2,-4.2],[151,-6.2]]],
  Australia: [[[114,-22],[113.5,-26],[115.5,-31],[115,-34.3],[118,-35],[123.5,-34],[129,-31.6],[134,-32.5],[136,-35],[138,-33],[138,-35.6],[141,-38],[146.3,-39],[150,-37.2],[153,-31],[153.6,-28],[150.8,-23.5],[146,-19],[145.3,-15],[142.6,-10.8],[141.6,-15],[140.8,-17.6],[136,-15.5],[136.8,-12.2],[131,-12.2],[129.5,-15],[126,-14],[122,-18],[119,-20]], [[144.8,-40.8],[148.3,-40.9],[147.5,-43.5],[146,-43.5]]],
  "New Zealand": [[[172.7,-34.5],[178.5,-37.7],[175.5,-41.6],[174.7,-38.8]], [[172.7,-40.5],[174.3,-41.7],[170.7,-46],[168.4,-46.6],[166.5,-45.8]]],
  "Solomon Islands": [[[156,-7],[159.8,-9.2],[158.5,-7.6]], [[160,-9.5],[162,-10.7],[161,-10]]],
  "New Caledonia": [[[164,-20.2],[167,-22.3],[166,-22]]],
  Vanuatu: [[[166.6,-15],[167.3,-16.5],[167.2,-15]]],
  Fiji: [[[177.3,-18],[178.6,-17.4],[178.5,-18.2]]],
}

const allShapes: Shapes = { ...africaShapes, ...americasShapes, ...eurasiaShapes, ...oceaniaShapes }
const speciesByCountry = new Map(speciesCountries.map((c, i) => [c, speciesValues[i]]))

// Robinson table, one row per 5 degrees
const robinsonLen = [1, 0.9986, 0.9954, 0.99, 0.9822, 0.973, 0.96, 0.9427, 0.9216, 0.8962, 0.8679, 0.835, 0.7986, 0.7597, 0.7186, 0.6732, 0.6213, 0.5722, 0.5322]
const robinsonDepth = [0, 0.062, 0.124, 0.186, 0.248, 0.31, 0.372, 0.434, 0.4958, 0.5571, 0.6176, 0.6769, 0.7346, 0.7903, 0.8435, 0.8936, 0.9394, 0.9761, 1]

function robinsonRaw(lambda: number, phi: number): [number, number] {
  const deg = (Math.abs(phi) * 180) / Math.PI / 5
  const i = Math.min(Math.floor(deg), 17)
  const t = deg - i
  const len = robinsonLen[i] + (robinsonLen[i + 1] - robinsonLen[i]) * t
  const depth = robinsonDepth[i] + (robinsonDepth[i + 1] - robinsonDepth[i]) * t
  return [0.8487 * len * lambda, 1.3523 * depth * (phi < 0 ? -1 : 1)]
}

const projection = d3.geoProjection(robinsonRaw).scale(156).translate([364, 340]).precision(0.3)
const geoPath = d3.geoPath(projection)

// d3 wants clockwise rings, hand-typed rings go either way
function toFeature(rings: Ring[]) {
  const polys = rings.map((r) => {
    const closed = [...r, r[0]]
    const poly = { type: "Polygon", coordinates: [closed] } as any
    return d3.geoArea(poly) > 2 * Math.PI ? [[...closed].reverse()] : [closed]
  })
  return { type: "MultiPolygon", coordinates: polys } as any
}

const colorScale = d3.scaleThreshold<number, string>().domain(legendBreaks.slice(1, -1)).range(legendColors)
const legendX = d3.scaleLinear().domain([25, 475]).range([283.5, 634.5])

const names = Object.keys(allShapes)
const noData = names.filter((n) => !speciesByCountry.has(n))
const withData = names.filter((n) => speciesByCountry.has(n))

const sans = "Lato, 'Noto Sans', sans-serif"

export default function App() {
  return (
    <svg width={850} height={600} style={{ position: "absolute", left: 0, top: 0, background: "#fff" }} fontFamily={sans}>
      <defs>
        <pattern id="hatch" patternUnits="userSpaceOnUse" width={4.6} height={4.6} patternTransform="rotate(45)">
          <rect width={4.6} height={4.6} fill="#fff" />
          <line x1={1.2} x2={1.2} y1={0} y2={4.6} stroke="#e4e4e4" strokeWidth={1.8} />
        </pattern>
      </defs>

      {title.map((t, i) => (
        <text key={t} x={16} y={37 + i * 25.5} fontFamily="'Liberation Serif', serif" fontWeight={700} fontSize={24} fill="#444"
          textLength={i === 0 ? 683 : 216} lengthAdjust="spacingAndGlyphs">{t}</text>
      ))}
      {subtitle.map((t, i) => (
        <text key={t} x={16} y={88 + i * 18} fontSize={15} fill="#5b5b5b">{t}</text>
      ))}

      <g>
        <rect x={770} y={16} width={63} height={36} fill="#002147" />
        <rect x={770} y={49.5} width={63} height={2.5} fill="#ce261e" />
        <text x={801.5} y={31} textAnchor="middle" fill="#fff" fontWeight={700} fontSize={11.5}>Our World</text>
        <text x={801.5} y={43} textAnchor="middle" fill="#fff" fontWeight={700} fontSize={11.5}>in Data</text>
      </g>

      <g strokeLinejoin="round">
        {noData.map((n) => (
          <path key={n} d={geoPath(toFeature(allShapes[n])) ?? ""} fill="url(#hatch)" stroke="#d6d6d6" strokeWidth={0.5} />
        ))}
        {withData.map((n) => (
          <path key={n} d={geoPath(toFeature(allShapes[n])) ?? ""} fill={colorScale(speciesByCountry.get(n)!)} stroke="#929292" strokeWidth={0.5} />
        ))}
      </g>

      <g fontSize={13} fill="#5b5b5b" textAnchor="middle">
        <text x={239.5} y={530}>No data</text>
        <line x1={239.5} x2={239.5} y1={533} y2={537} stroke="#999" strokeWidth={0.6} />
        <rect x={216} y={537} width={47} height={11} fill="url(#hatch)" stroke="#bbb" strokeWidth={0.6} />
        {legendColors.map((c, i) => (
          <rect key={c} x={legendX(legendBreaks[i])} y={537} width={legendX(legendBreaks[i + 1]) - legendX(legendBreaks[i])} height={11} fill={c} stroke="#999" strokeWidth={0.5} />
        ))}
        {legendBreaks.map((b) => (
          <g key={b}>
            <line x1={legendX(b)} x2={legendX(b)} y1={533} y2={537} stroke="#999" strokeWidth={0.6} />
            <text x={legendX(b)} y={530}>{b}</text>
          </g>
        ))}
      </g>

      <text x={16} y={581} fontSize={13} fill="#5b5b5b">
        <tspan fontWeight={700}>Data source:</tspan> Williams et al. (2021)
      </text>
      <text x={832} y={581} fontSize={13} fill="#5b5b5b" textAnchor="end">OurWorldinData.org/yields-habitat-loss | CC BY</text>
    </svg>
  )
}
